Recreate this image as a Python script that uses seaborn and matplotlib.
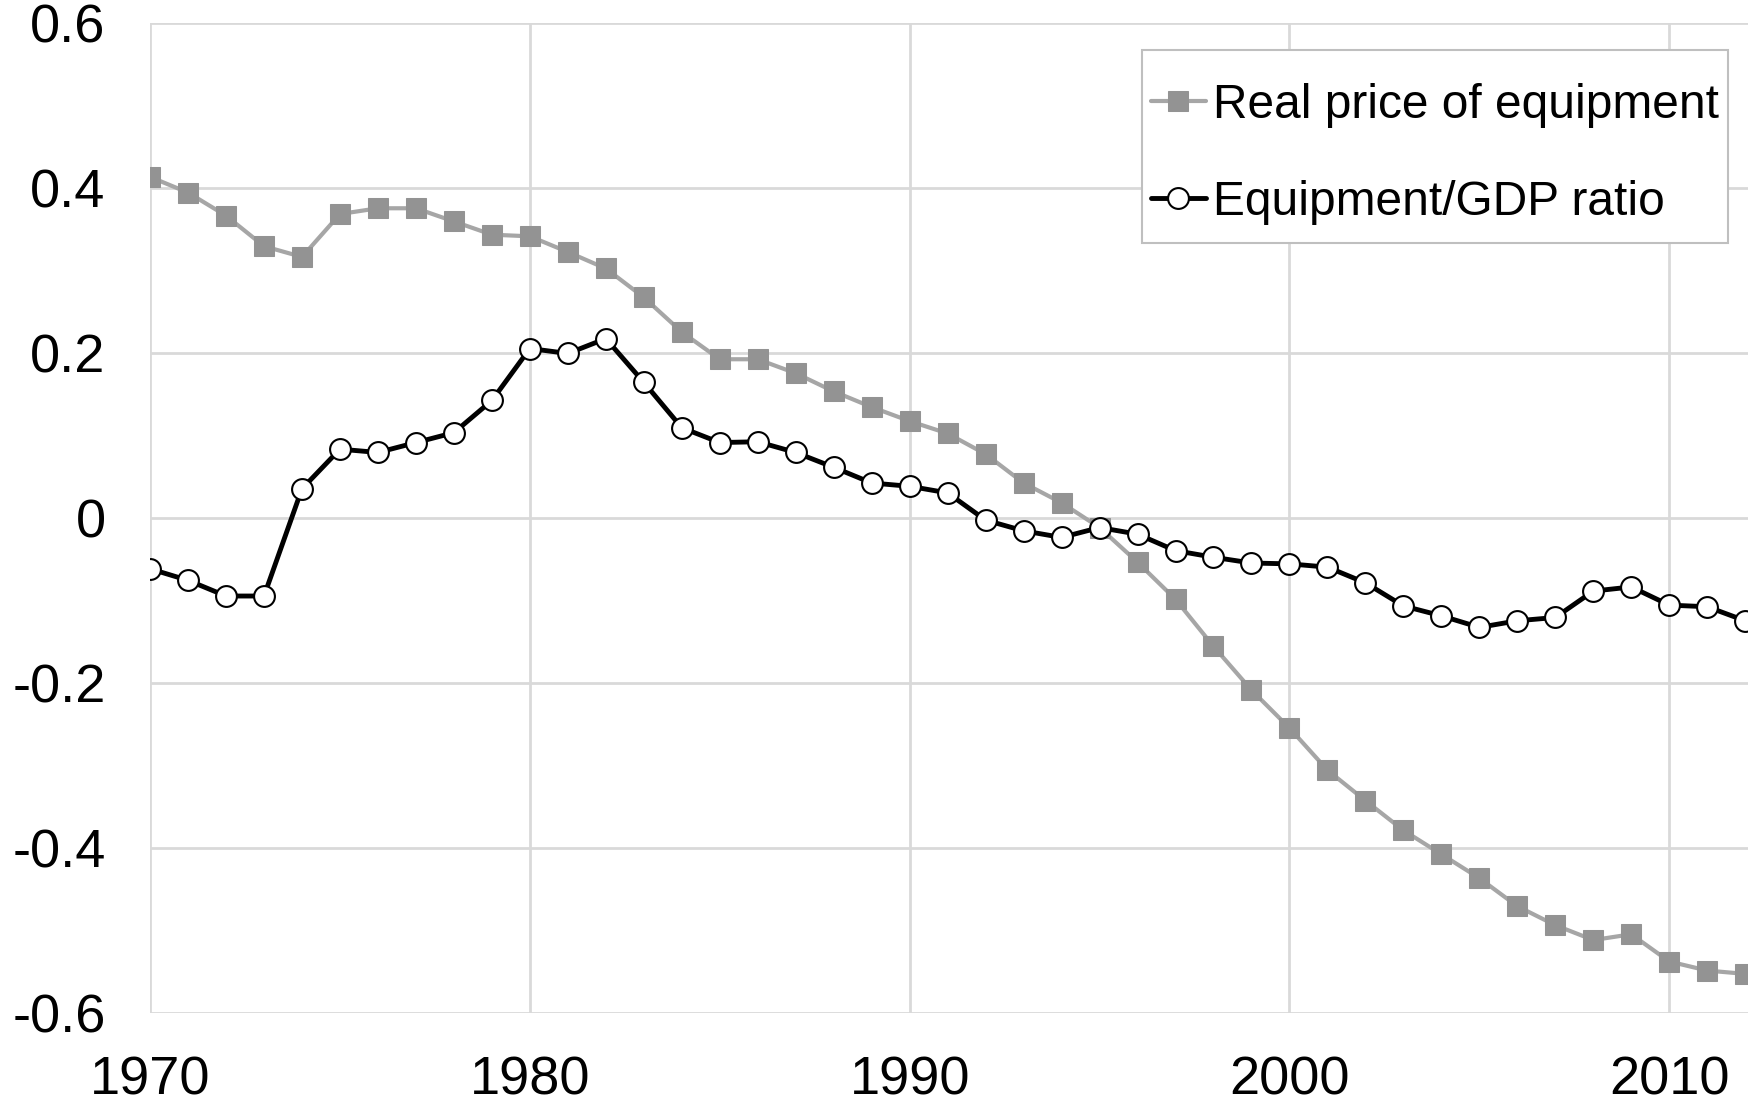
import numpy as np
import pandas as pd
import seaborn as sns
import matplotlib.pyplot as plt
from matplotlib.patches import Rectangle

# data
years = list(range(1970, 2013))
real_price = [0.413, 0.394, 0.366, 0.329, 0.316, 0.368, 0.375, 0.375, 0.359, 0.343,
              0.341, 0.322, 0.302, 0.267, 0.225, 0.192, 0.192, 0.175, 0.153, 0.134,
              0.117, 0.102, 0.077, 0.042, 0.018, -0.012, -0.054, -0.099, -0.156, -0.209,
              -0.255, -0.306, -0.343, -0.379, -0.408, -0.437, -0.471, -0.494, -0.512, -0.505,
              -0.538, -0.549, -0.553]
equip_gdp = [-0.062, -0.076, -0.095, -0.095, 0.035, 0.083, 0.079, 0.091, 0.103, 0.142,
             0.205, 0.199, 0.217, 0.164, 0.109, 0.091, 0.092, 0.079, 0.061, 0.042,
             0.038, 0.030, -0.003, -0.016, -0.024, -0.012, -0.020, -0.040, -0.048, -0.055,
             -0.056, -0.060, -0.079, -0.107, -0.119, -0.133, -0.125, -0.121, -0.089, -0.084,
             -0.106, -0.108, -0.125]
series_names = ["Real price of equipment", "Equipment/GDP ratio"]
x_ticks = [1970, 1980, 1990, 2000, 2010]
y_ticks = [-0.6, -0.4, -0.2, 0, 0.2, 0.4, 0.6]
y_ticklabels = ["-0.6", "-0.4", "-0.2", "0", "0.2", "0.4", "0.6"]

df = pd.DataFrame({"year": years, "price": real_price, "ratio": equip_gdp})

sns.set_style("white")
plt.rcParams['font.family'] = ['Liberation Sans', 'DejaVu Sans']
plt.rcParams['text.color'] = 'black'
plt.rcParams['xtick.color'] = 'black'
plt.rcParams['ytick.color'] = 'black'

fig = plt.figure(figsize=(17.49, 11.10), dpi=100)
ax = fig.add_axes([0.0858, 0.0877, 0.9142, 0.8919])

sns.lineplot(data=df, x="year", y="price", ax=ax, color='#A6A6A6', linewidth=3,
             marker='s', markersize=15, markerfacecolor='#939393',
             markeredgecolor='#939393', label=series_names[0])
sns.lineplot(data=df, x="year", y="ratio", ax=ax, color='black', linewidth=3.5,
             marker='o', markersize=15, markerfacecolor='white',
             markeredgecolor='black', markeredgewidth=1.5, label=series_names[1])

ax.set_xlim(1970, 2012.1)
ax.set_ylim(-0.6, 0.6)
ax.set_xticks(x_ticks)
ax.set_yticks(y_ticks)
ax.set_yticklabels(y_ticklabels)
ax.set_xlabel('')
ax.set_ylabel('')
ax.tick_params(axis='both', length=0, labelsize=39, labelcolor='black')
ax.tick_params(axis='y', pad=32)
ax.tick_params(axis='x', pad=31)
ax.grid(True, color='#D9D9D9', linewidth=2)
for s in ax.spines.values():
    s.set_visible(False)

# legend without its own frame; frame drawn below with Excel-like padding
leg = ax.legend(loc='upper right', bbox_to_anchor=(0.9829, 0.9252),
                bbox_transform=fig.transFigure, borderaxespad=0,
                fontsize=34.5, frameon=False, handlelength=1.15,
                handletextpad=0.15, labelspacing=1.085, borderpad=0)
for t in leg.get_texts():
    t.set_color('black')

fig.canvas.draw()
bb = leg.get_window_extent()
pad_x, pad_top, pad_bottom = 9, 33, 18
W, H = fig.bbox.width, fig.bbox.height
frame = Rectangle(((bb.x0 - pad_x) / W, (bb.y0 - pad_bottom) / H),
                  (bb.width + 2 * pad_x) / W, (bb.height + pad_top + pad_bottom) / H,
                  transform=fig.transFigure, facecolor='white',
                  edgecolor='#BFBFBF', linewidth=1.5, zorder=4)
ax.add_patch(frame)
frame.set_clip_on(False)
leg.set_zorder(5)

fig.savefig('out.png', dpi=100)
